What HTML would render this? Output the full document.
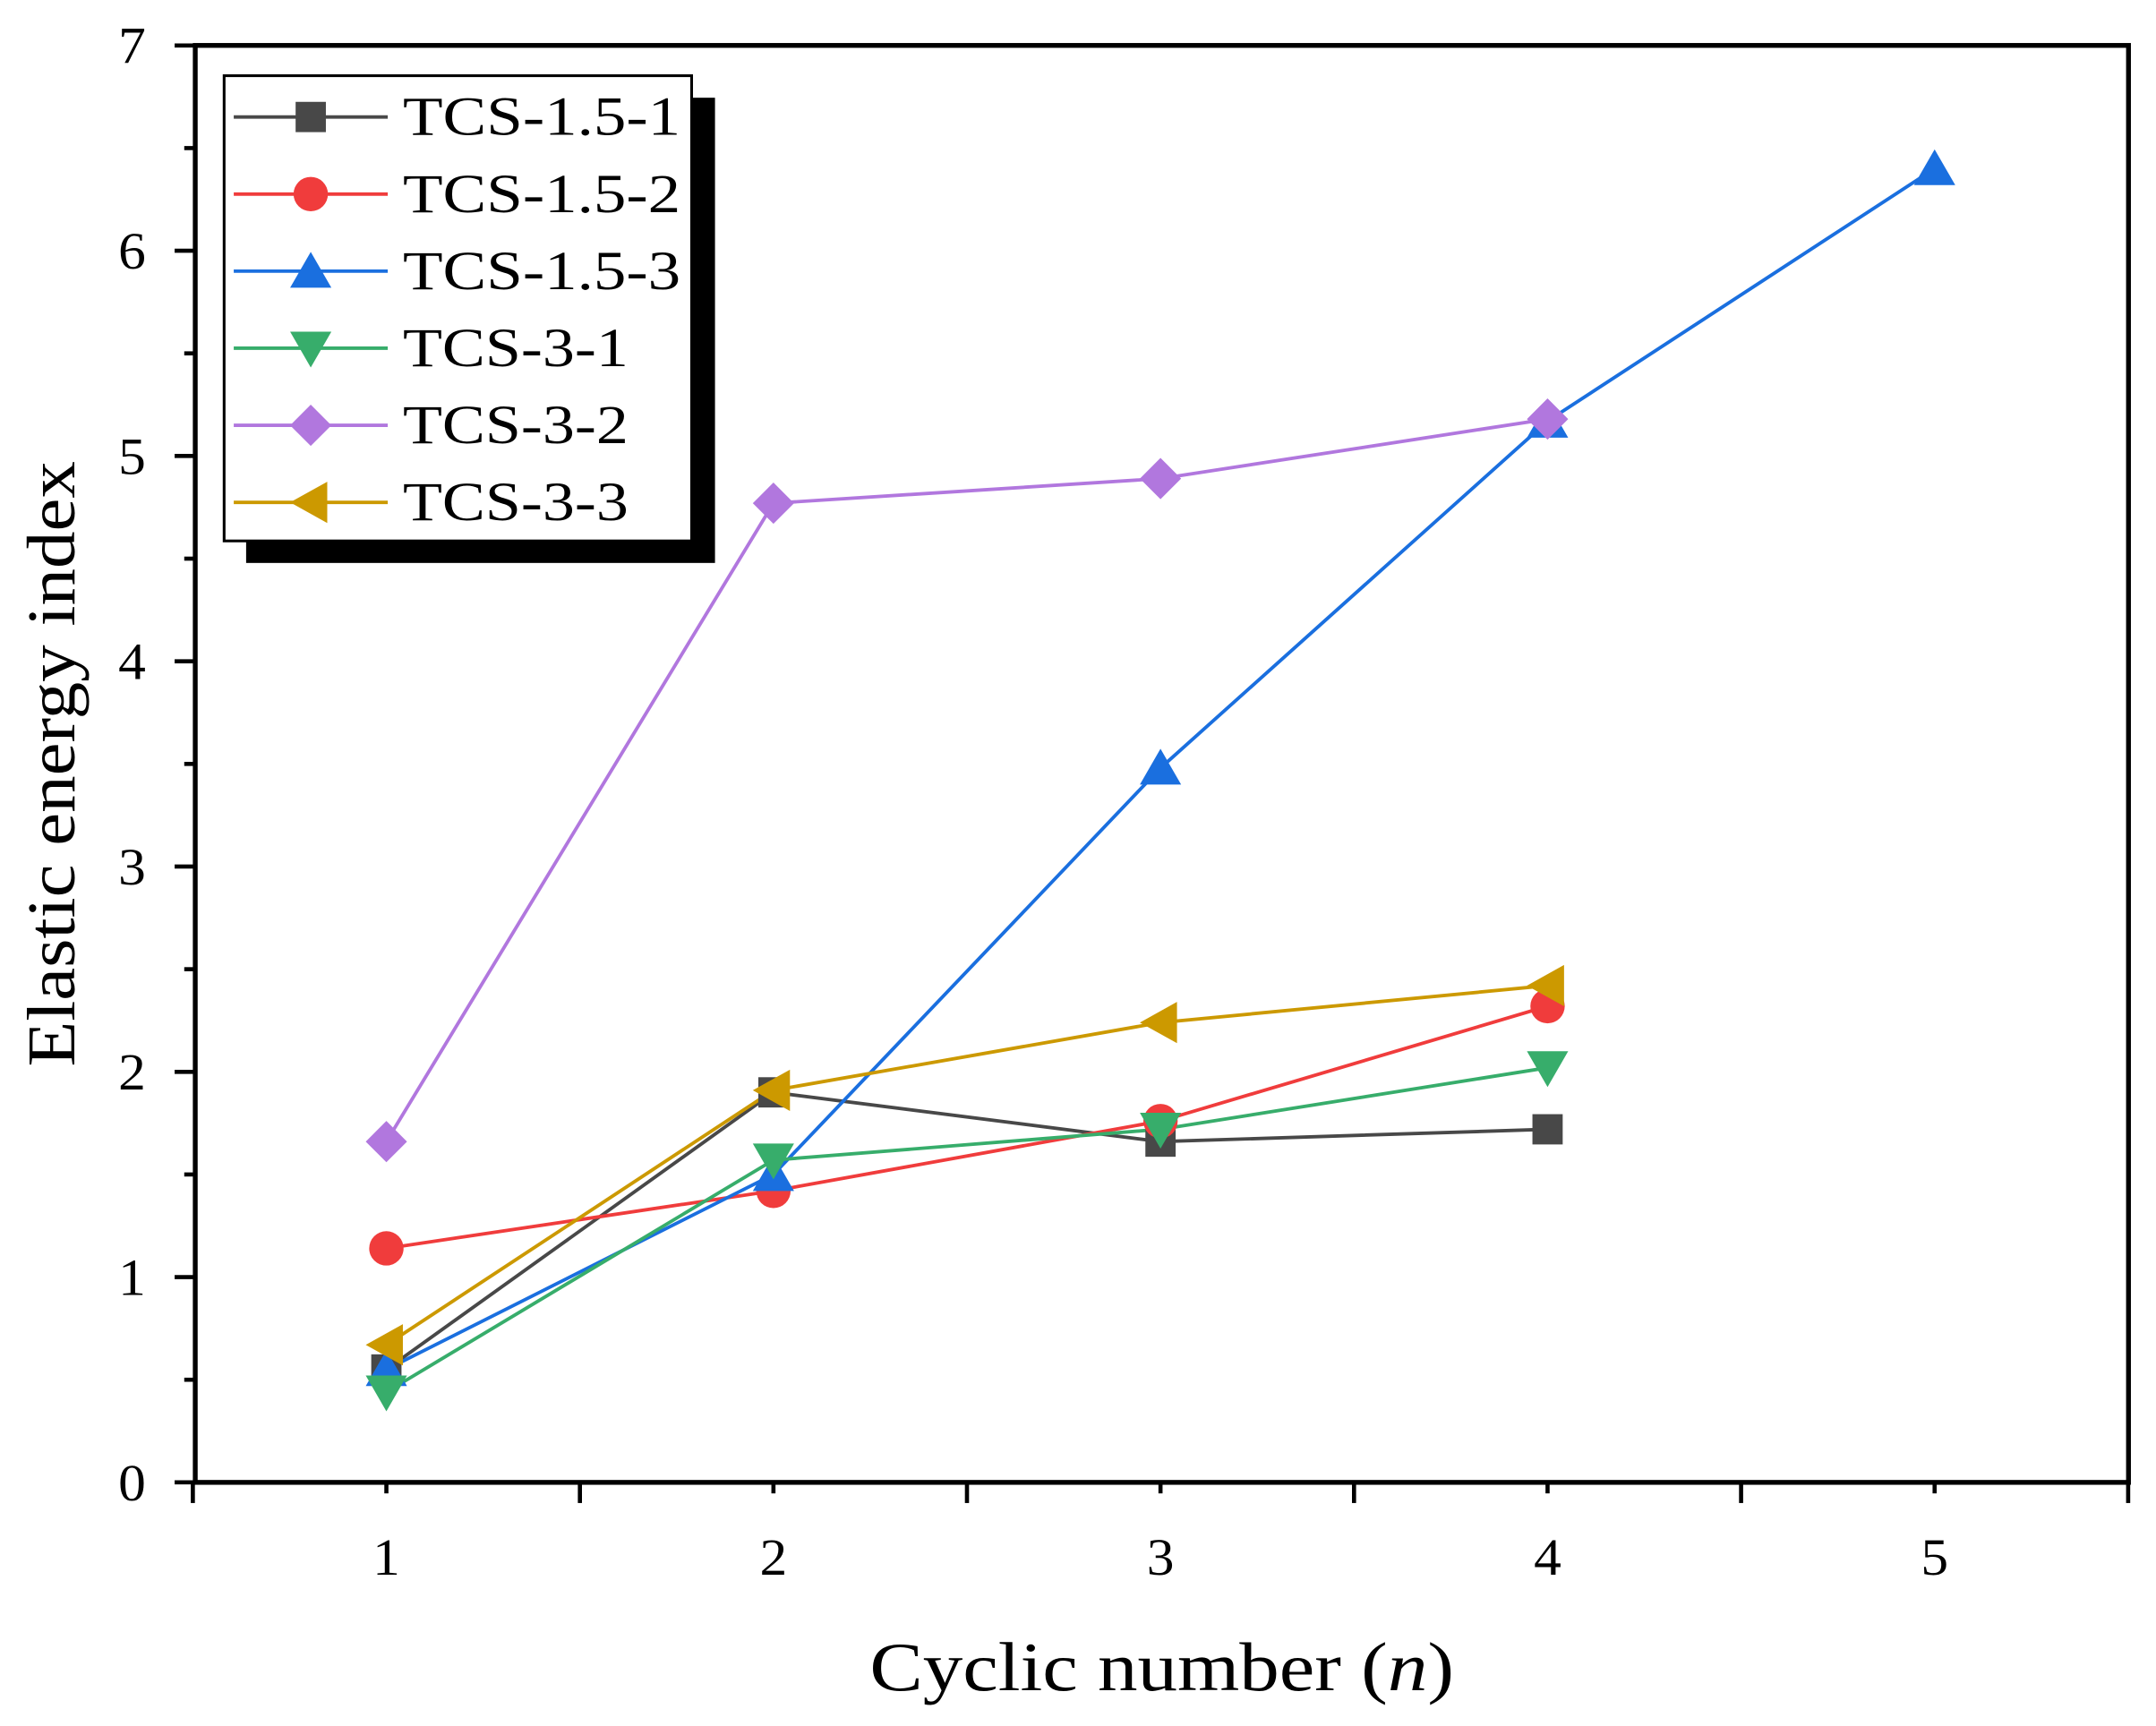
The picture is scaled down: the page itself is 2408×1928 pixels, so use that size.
<!DOCTYPE html>
<html><head><meta charset="utf-8"><style>html,body{margin:0;padding:0;background:#fff}svg{display:block}</style></head>
<body>
<svg id="c" width="2408" height="1928" viewBox="0 0 1568 1254" preserveAspectRatio="none" xmlns="http://www.w3.org/2000/svg" font-family="Liberation Serif, serif">
<rect width="1568" height="1254" fill="#fff"/>
</svg>
<script>
const s=document.getElementById('c');const NS='http://www.w3.org/2000/svg';
function el(t,a,txt){const e=document.createElementNS(NS,t);for(const k in a)e.setAttribute(k,a[k]);if(txt!==undefined)e.textContent=txt;s.appendChild(e);return e;}
const X=n=>281+281.5*(n-1), Y=v=>1077-149.14*v;
for(let i=0;i<=14;i++){const v=i/2,y=Y(v);el('line',{x1:142,x2:i%2?134:127,y1:y,y2:y,stroke:'#000','stroke-width':3});
 if(i%2==0)el('text',{x:106,y:y+13,'text-anchor':'end','font-size':38,textLength:20,lengthAdjust:'spacingAndGlyphs'},v);}
for(let i=0;i<=10;i++){const n=0.5+i/2,x=X(n);el('line',{x1:x,x2:x,y1:1077,y2:i%2?1085:1092,stroke:'#000','stroke-width':3});
 if(i%2==1)el('text',{x:x,y:1144,'text-anchor':'middle','font-size':38,textLength:20,lengthAdjust:'spacingAndGlyphs'},n);}
el('rect',{x:142,y:33,width:1406,height:1044,fill:'none',stroke:'#000','stroke-width':3.5});
const t=el('text',{x:845,y:1228,'text-anchor':'middle','font-size':50,textLength:425,lengthAdjust:'spacingAndGlyphs'});t.innerHTML='Cyclic number (<tspan font-style="italic">n</tspan>)';
el('text',{x:0,y:0,'text-anchor':'middle','font-size':50,textLength:440,lengthAdjust:'spacingAndGlyphs',transform:'translate(54,555) rotate(-90)'},'Elastic energy index');
const S=[
['TCS-1.5-1','#484848','sq',[[1,0.55],[2,1.9],[3,1.66],[4,1.72]],202],
['TCS-1.5-2','#f03c3c','ci',[[1,1.14],[2,1.42],[3,1.76],[4,2.32]],202],
['TCS-1.5-3','#1a6fdf','up',[[1,0.55],[2,1.5],[3,3.48],[4,5.17],[5,6.4]],202],
['TCS-3-1','#37ad6b','dn',[[1,0.44],[2,1.57],[3,1.72],[4,2.02]],164],
['TCS-3-2','#b177de','di',[[1,1.66],[2,4.77],[3,4.89],[4,5.18]],164],
['TCS-3-3','#cc9900','lt',[[1,0.67],[2,1.91],[3,2.24],[4,2.42]],164]];
function mk(type,x,y,c){let p;
 if(type=='sq')return el('rect',{x:x-11,y:y-11,width:22,height:22,fill:c});
 if(type=='ci')return el('circle',{cx:x,cy:y,r:12.5,fill:c});
 if(type=='up')p=[[x,y-14],[x+15,y+12],[x-15,y+12]];
 if(type=='dn')p=[[x,y+14],[x+15,y-12],[x-15,y-12]];
 if(type=='di')p=[[x,y-15],[x+15,y],[x,y+15],[x-15,y]];
 if(type=='lt')p=[[x-15,y],[x+12,y-15],[x+12,y+15]];
 return el('polygon',{points:p.map(q=>q.join(',')).join(' '),fill:c});}
S.forEach(([n,c,m,d])=>{el('polyline',{points:d.map(([a,b])=>X(a)+','+Y(b)).join(' '),fill:'none',stroke:c,'stroke-width':2.5});});
S.forEach(([n,c,m,d])=>{d.forEach(([a,b])=>mk(m,X(a),Y(b),c));});
el('rect',{x:179,y:71,width:341,height:338,fill:'#000'});
el('rect',{x:163,y:55,width:340,height:338,fill:'#fff',stroke:'#000','stroke-width':2});
S.forEach(([n,c,m,d,w],i)=>{const y=85+56*i;el('line',{x1:170,x2:282,y1:y,y2:y,stroke:c,'stroke-width':2.5});mk(m,226,y,c);
 el('text',{x:293,y:y+13,'font-size':40,textLength:w,lengthAdjust:'spacingAndGlyphs'},n);});
</script>
</body></html>
